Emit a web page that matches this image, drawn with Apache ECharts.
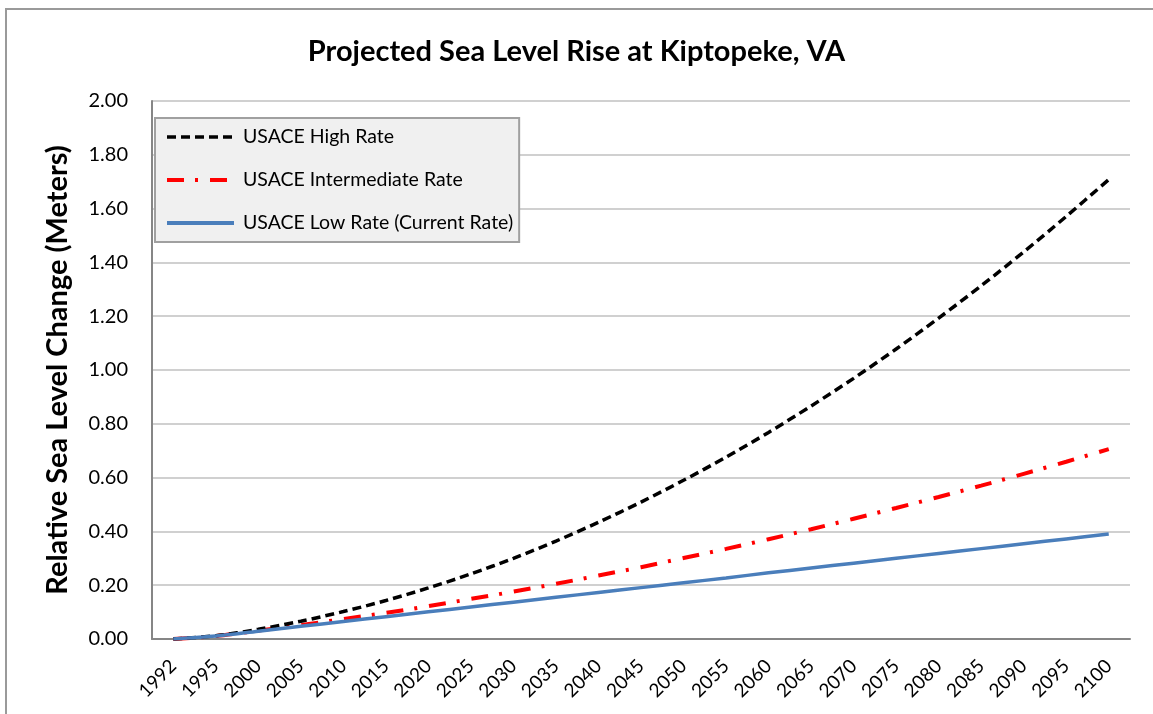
<!DOCTYPE html>
<html>
<head>
<meta charset="utf-8">
<script src="https://cdn.jsdelivr.net/npm/echarts@6/dist/echarts.min.js"></script>
<style>
  html, body { margin: 0; padding: 0; background: #fff; }
  #chart { width: 1153px; height: 714px; }
</style>
</head>
<body>
<div id="chart"></div>
<script>
// years on the x axis
var years = ['1992', '1995', '2000', '2005', '2010', '2015', '2020', '2025', '2030', '2035', '2040',
  '2045', '2050', '2055', '2060', '2065', '2070', '2075', '2080', '2085', '2090', '2095', '2100'];

// sea level change in meters
var highRate = [0, 0.012, 0.036, 0.066, 0.102, 0.143, 0.190, 0.242, 0.300, 0.364, 0.434,
  0.509, 0.590, 0.676, 0.768, 0.866, 0.969, 1.078, 1.193, 1.313, 1.439, 1.571, 1.708];
var intermediateRate = [0, 0.011, 0.031, 0.052, 0.074, 0.097, 0.122, 0.149, 0.176, 0.205, 0.236,
  0.267, 0.301, 0.335, 0.371, 0.408, 0.447, 0.487, 0.528, 0.570, 0.614, 0.659, 0.706];
var lowRate = [0, 0.011, 0.029, 0.047, 0.065, 0.083, 0.101, 0.119, 0.137, 0.155, 0.173,
  0.191, 0.209, 0.227, 0.246, 0.264, 0.282, 0.300, 0.318, 0.336, 0.354, 0.372, 0.390];

var seriesNames = ['USACE High Rate', 'USACE Intermediate Rate', 'USACE Low Rate (Current Rate)'];

var font = 'Lato, "Open Sans", sans-serif';
var myChart = echarts.init(document.getElementById('chart'));

var option = {
  animation: false,
  backgroundColor: '#fff',
  textStyle: { fontFamily: font },
  graphic: [{
    type: 'rect',
    shape: { x: 6, y: 9, width: 1200, height: 760 },
    style: { fill: 'none', stroke: '#9a9a9a', lineWidth: 2 },
    silent: true
  }],
  title: {
    text: 'Projected Sea Level Rise at Kiptopeke, VA',
    left: 'center',
    top: 32,
    textStyle: { fontFamily: font, fontSize: 29, fontWeight: 'bold', color: '#000' }
  },
  grid: { left: 152, right: 23, top: 101, bottom: 75 },
  legend: {
    orient: 'vertical',
    left: 155,
    top: 118,
    data: [
      { name: seriesNames[0], lineStyle: { width: 3.5, type: [9, 5] } },
      { name: seriesNames[1], lineStyle: { width: 4, type: [17, 11, 3, 12] } },
      { name: seriesNames[2], lineStyle: { width: 4 } }
    ],
    itemWidth: 67,
    itemHeight: 14,
    itemGap: 21,
    padding: [8, 6, 8, 10],
    backgroundColor: '#f0f0f0',
    borderColor: '#a0a0a0',
    borderWidth: 2,
    borderRadius: 0,
    itemStyle: { opacity: 0 },
    textStyle: { fontFamily: font, fontSize: 19.5, color: '#000', lineHeight: 22, padding: [0, 0, 0, 4] }
  },
  xAxis: {
    type: 'category',
    data: years,
    boundaryGap: true,
    axisLine: { lineStyle: { color: '#868686', width: 2 } },
    axisTick: { show: false },
    axisLabel: { rotate: 45, interval: 0, margin: 24, fontFamily: font, fontSize: 19, color: '#000' }
  },
  yAxis: {
    type: 'value',
    min: 0,
    max: 2,
    interval: 0.2,
    name: 'Relative Sea Level Change (Meters)',
    nameLocation: 'middle',
    nameGap: 80,
    nameTextStyle: { fontFamily: font, fontSize: 29, fontWeight: 'bold', color: '#000' },
    axisLine: { show: true, lineStyle: { color: '#868686', width: 2 } },
    axisTick: { show: false },
    splitLine: { lineStyle: { color: '#c0c0c0', width: 1.5 } },
    axisLabel: {
      margin: 24, fontFamily: font, fontSize: 20, color: '#000',
      formatter: function (v) { return v.toFixed(2); }
    }
  },
  series: [
    {
      name: seriesNames[0],
      type: 'line',
      data: highRate,
      smooth: 0.3,
      symbol: 'none',
      z: 3,
      lineStyle: { color: '#000', width: 3.5, type: [9, 5] },
      itemStyle: { color: '#000' }
    },
    {
      name: seriesNames[1],
      type: 'line',
      data: intermediateRate,
      smooth: 0.3,
      symbol: 'none',
      z: 2,
      lineStyle: { color: '#ff0000', width: 4, type: [17, 11, 3, 12] },
      itemStyle: { color: '#ff0000' }
    },
    {
      name: seriesNames[2],
      type: 'line',
      data: lowRate,
      smooth: 0.3,
      symbol: 'none',
      z: 4,
      lineStyle: { color: '#4a7ebb', width: 3.5 },
      itemStyle: { color: '#4a7ebb' }
    }
  ]
};

myChart.setOption(option);
window.addEventListener('resize', function () { myChart.resize(); });
</script>
</body>
</html>
